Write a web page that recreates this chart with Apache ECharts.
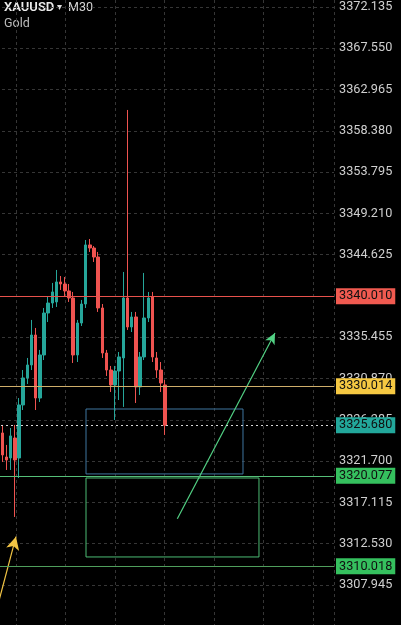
<!DOCTYPE html>
<html><head><meta charset="utf-8">
<script src="https://cdn.jsdelivr.net/npm/echarts@6/dist/echarts.min.js"></script>
<style>html,body{margin:0;padding:0;background:#000;}#c{width:401px;height:625px;}</style>
</head><body><div id="c"></div>
<script>
// 30-minute slots shown on the chart (41 with candles, rest is empty future space)
const slotCount = 81;
const slots = [];
for (let i = 0; i < slotCount; i++) slots.push('s' + i);

// Candle values
const opens  = [3328.71,3324.83,3322.16,3322.05,3324.27,3322.05,3327.94,3330.94,3332.38,3335.71,3328.71,3333.49,3338.15,3339.26,3339.38,3341.60,3341.37,3340.60,3339.82,3333.49,3337.04,3339.15,3345.71,3345.37,3344.37,3338.71,3333.71,3331.82,3330.16,3331.71,3333.16,3339.82,3336.60,3337.71,3329.94,3333.27,3337.60,3339.93,3333.16,3331.82,3330.16];
const closes = [3325.72,3322.39,3321.83,3324.50,3321.83,3327.94,3330.94,3332.38,3335.71,3328.71,3333.49,3338.15,3339.26,3340.49,3341.60,3341.37,3340.60,3339.82,3333.49,3337.04,3339.15,3345.71,3345.37,3344.37,3338.71,3333.71,3331.82,3330.16,3331.71,3333.27,3339.82,3336.60,3337.71,3329.94,3333.27,3337.60,3339.82,3333.27,3331.82,3330.38,3325.68];
const lows   = [3324.94,3321.61,3320.72,3320.72,3315.50,3319.83,3327.38,3330.27,3331.82,3327.38,3328.27,3332.93,3337.15,3338.71,3338.82,3340.71,3340.04,3339.38,3332.60,3332.71,3336.71,3338.71,3344.93,3343.82,3338.27,3333.16,3331.16,3329.38,3326.27,3328.49,3327.72,3336.27,3336.04,3328.16,3329.05,3332.93,3337.15,3332.71,3330.94,3329.38,3324.61];
const highs  = [3329.38,3325.72,3323.50,3325.38,3325.72,3328.71,3331.82,3333.16,3337.38,3336.49,3334.05,3338.71,3340.04,3341.49,3342.93,3342.26,3342.15,3341.37,3340.49,3337.38,3339.60,3346.26,3346.37,3345.59,3344.93,3339.15,3334.05,3332.27,3332.27,3333.82,3342.71,3360.70,3338.27,3338.27,3333.82,3342.60,3340.49,3340.49,3333.82,3332.71,3330.71];

// Price axis ticks
const priceMin = 3303.360;
const priceMax = 3376.720;
const priceStep = 4.585;

// Horizontal levels
const levelValues = [3340.010, 3330.014, 3325.680, 3320.077, 3310.018];

// Drawn zones: [slotFrom, slotTo, priceTop, priceBottom]
const zoneBlue  = [21.07, 58.69, 3327.49, 3320.28];
const zoneGreen = [21.07, 62.52, 3319.83, 3311.06];
// Arrows: [slotFrom, priceFrom, slotTo, priceTo]
const arrowGreen  = [42.95, 3315.30, 66.36, 3335.93];
const arrowYellow = [0.0, 3305.82, 4.29, 3313.31];

const ohlc = opens.map((o, i) => [o, closes[i], lows[i], highs[i]]);

const FONT = 'Roboto, "Noto Sans", sans-serif';
const GRID_COLOR = '#363636';
const levelStyles = [
  {line: '#e8524c', bg: '#f05a50', type: 'solid'},
  {line: '#cfae6a', bg: '#f5c842', type: 'solid'},
  {line: '#d8d8d8', bg: '#22a79b', type: [2, 3]},
  {line: '#55bf78', bg: '#35c05e', type: 'solid'},
  {line: '#4f9e5c', bg: '#35c05e', type: 'solid'}
];

const levelSeries = levelValues.map((v, i) => ({
  type: 'line', xAxisIndex: 1, yAxisIndex: 0, data: [], silent: true, z: 5,
  markLine: {
    silent: true, symbol: ['none', 'none'], animation: false, precision: 3,
    lineStyle: {color: levelStyles[i].line, width: 1, type: levelStyles[i].type, opacity: 1},
    label: {show: true, position: 'end', distance: 2, formatter: () => v.toFixed(3),
            color: '#101010', backgroundColor: levelStyles[i].bg, padding: [2, 3, 1, 3],
            fontFamily: FONT, fontSize: 12.7},
    emphasis: {disabled: true},
    data: [{yAxis: v}]
  }
}));

const chart = echarts.init(document.getElementById('c'), null, {renderer: 'canvas'});
chart.setOption({
  backgroundColor: '#000',
  animation: false,
  graphic: [
    {type: 'text', x: 4, y: 7.5, style: {text: 'XAUUSD', fill: '#ececec', font: '600 13px ' + FONT, verticalAlign: 'middle'}},
    {type: 'text', x: 57, y: 7.5, style: {text: '▾', fill: '#dcdcdc', font: '10px ' + FONT, verticalAlign: 'middle'}},
    {type: 'text', x: 68, y: 7.5, style: {text: 'M30', fill: '#d6d6d6', font: '12.5px ' + FONT, verticalAlign: 'middle'}},
    {type: 'text', x: 4, y: 23.5, style: {text: 'Gold', fill: '#bdbdbd', font: '12.5px ' + FONT, verticalAlign: 'middle'}}
  ],
  grid: [
    {left: -4, right: 67, top: -34.3, bottom: -1.3, outerBoundsMode: 'none', containLabel: false},
    {left: -33.5, right: 67, top: 0, bottom: 0, outerBoundsMode: 'none', containLabel: false}
  ],
  xAxis: [
    {type: 'category', gridIndex: 0, data: slots, boundaryGap: true,
     axisLine: {show: false}, axisTick: {show: false}, axisLabel: {show: false}, splitLine: {show: false}},
    {type: 'value', gridIndex: 0, min: -0.5, max: slotCount - 0.5, show: false},
    {type: 'value', gridIndex: 1, min: 0, max: 7.424, interval: 1, show: true,
     axisLine: {show: false}, axisTick: {show: false}, axisLabel: {show: false},
     splitLine: {show: true, lineStyle: {color: GRID_COLOR, type: [3, 3], width: 1}}}
  ],
  yAxis: [
    {type: 'value', gridIndex: 0, position: 'right', min: priceMin, max: priceMax, interval: priceStep,
     axisLine: {show: true, lineStyle: {color: '#4a4a4a', width: 1}},
     axisTick: {show: false},
     axisLabel: {color: '#cfcfcf', fontFamily: FONT, fontSize: 12.7, margin: 5, showMinLabel: false,
                 formatter: v => Number(v).toFixed(3)},
     splitLine: {show: true, lineStyle: {color: GRID_COLOR, type: [3, 3], width: 1}}},
    {type: 'value', gridIndex: 1, min: 0, max: 1,
     axisLine: {show: false}, axisTick: {show: false}, axisLabel: {show: false}, splitLine: {show: false}}
  ],
  series: [
    {
      type: 'candlestick', xAxisIndex: 0, yAxisIndex: 0,
      data: ohlc, barWidth: 3, z: 3,
      itemStyle: {color: '#26a69a', color0: '#ef5350', borderColor: '#26a69a', borderColor0: '#ef5350', borderWidth: 1}
    },
    {
      type: 'line', xAxisIndex: 1, yAxisIndex: 0, data: [], silent: true, z: 4,
      markArea: {
        silent: true,
        data: [
          [{coord: [zoneBlue[0], zoneBlue[2]], itemStyle: {color: 'rgba(0,0,0,0)', borderColor: '#3f76a0', borderWidth: 1}},
           {coord: [zoneBlue[1], zoneBlue[3]]}],
          [{coord: [zoneGreen[0], zoneGreen[2]], itemStyle: {color: 'rgba(0,0,0,0)', borderColor: '#4cbc74', borderWidth: 1}},
           {coord: [zoneGreen[1], zoneGreen[3]]}]
        ]
      },
      markLine: {
        silent: true, symbol: ['none', 'arrow'], label: {show: false},
        data: [
          [{coord: [arrowGreen[0], arrowGreen[1]], symbol: 'none'},
           {coord: [arrowGreen[2], arrowGreen[3]], symbol: 'arrow', symbolSize: [8, 11],
            lineStyle: {color: '#52d184', width: 1.2, type: 'solid'}}],
          [{coord: [arrowYellow[0], arrowYellow[1]], symbol: 'none'},
           {coord: [arrowYellow[2], arrowYellow[3]], symbol: 'arrow', symbolSize: [10, 13],
            lineStyle: {color: '#f2c444', width: 1.2, type: 'solid'}}]
        ]
      }
    },
    {type: 'line', xAxisIndex: 2, yAxisIndex: 1, data: [[-1, -1]], showSymbol: false, lineStyle: {opacity: 0}}
  ].concat(levelSeries)
});
</script></body></html>
